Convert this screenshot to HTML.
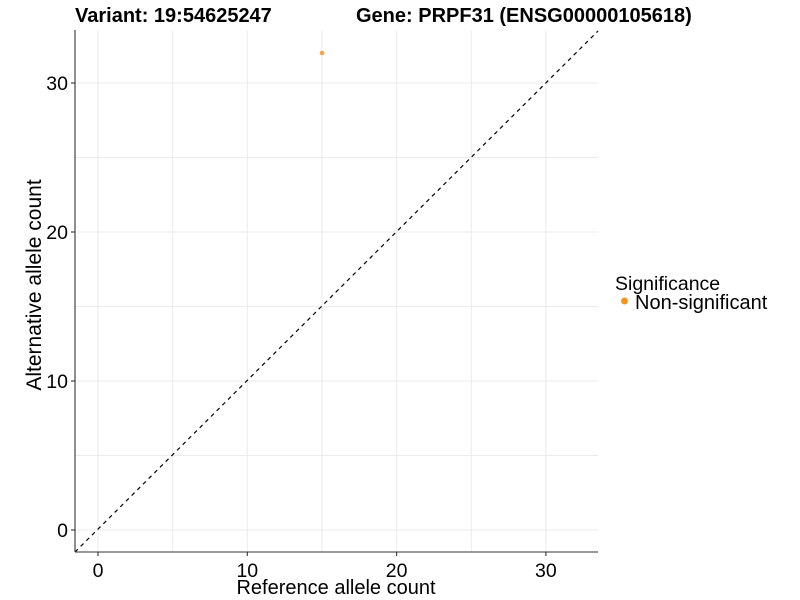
<!DOCTYPE html>
<html><head><style>body{margin:0;background:#fff}svg{display:block}</style></head><body>
<svg width="800" height="600" xmlns="http://www.w3.org/2000/svg" font-family="Liberation Sans, Arial, sans-serif">
<rect width="800" height="600" fill="#fff"/>
<g stroke="#ebebeb" stroke-width="1">
<line x1="75" x2="598" y1="530" y2="530"/><line x1="75" x2="598" y1="455.5" y2="455.5"/>
<line x1="75" x2="598" y1="381" y2="381"/><line x1="75" x2="598" y1="306.5" y2="306.5"/>
<line x1="75" x2="598" y1="232" y2="232"/><line x1="75" x2="598" y1="157.5" y2="157.5"/>
<line x1="75" x2="598" y1="83" y2="83"/>
<line y1="30" y2="552" x1="98" x2="98"/><line y1="30" y2="552" x1="172.6" x2="172.6"/>
<line y1="30" y2="552" x1="247.3" x2="247.3"/><line y1="30" y2="552" x1="322" x2="322"/>
<line y1="30" y2="552" x1="396.6" x2="396.6"/><line y1="30" y2="552" x1="471.3" x2="471.3"/>
<line y1="30" y2="552" x1="545.9" x2="545.9"/>
</g>
<line x1="75" y1="552" x2="598" y2="31" stroke="#000" stroke-width="1.2" stroke-dasharray="4,4"/>
<circle cx="322" cy="53" r="2.3" fill="#f7941d" opacity="0.85"/>
<g stroke="#333" stroke-width="1.1">
<line x1="75" y1="30" x2="75" y2="552"/><line x1="75" y1="552" x2="598" y2="552"/>
<line x1="71" x2="75" y1="530" y2="530"/><line x1="71" x2="75" y1="381" y2="381"/>
<line x1="71" x2="75" y1="232" y2="232"/><line x1="71" x2="75" y1="83" y2="83"/>
<line y1="552" y2="556" x1="98" x2="98"/><line y1="552" y2="556" x1="247.3" x2="247.3"/>
<line y1="552" y2="556" x1="396.6" x2="396.6"/><line y1="552" y2="556" x1="545.9" x2="545.9"/>
</g>
<g font-size="19.5" fill="#000" text-anchor="end">
<text x="68" y="537">0</text><text x="68" y="388">10</text><text x="68" y="239">20</text><text x="68" y="90">30</text>
</g>
<g font-size="19.5" fill="#000" text-anchor="middle">
<text x="98" y="577">0</text><text x="247.3" y="577">10</text><text x="396.6" y="577">20</text><text x="545.9" y="577">30</text>
</g>
<g font-size="20" fill="#000" text-anchor="middle">
<text x="336" y="594">Reference allele count</text>
<text transform="translate(41,285) rotate(-90)" font-size="21">Alternative allele count</text>
</g>
<text x="75" y="22" font-size="20" font-weight="bold">Variant: 19:54625247</text>
<text x="356" y="22" font-size="20" font-weight="bold">Gene: PRPF31 (ENSG00000105618)</text>
<text x="615" y="290" font-size="19.5">Significance</text>
<circle cx="624.5" cy="301" r="3.5" fill="#f7941d"/>
<text x="635" y="309" font-size="20">Non-significant</text>
</svg>
</body></html>
